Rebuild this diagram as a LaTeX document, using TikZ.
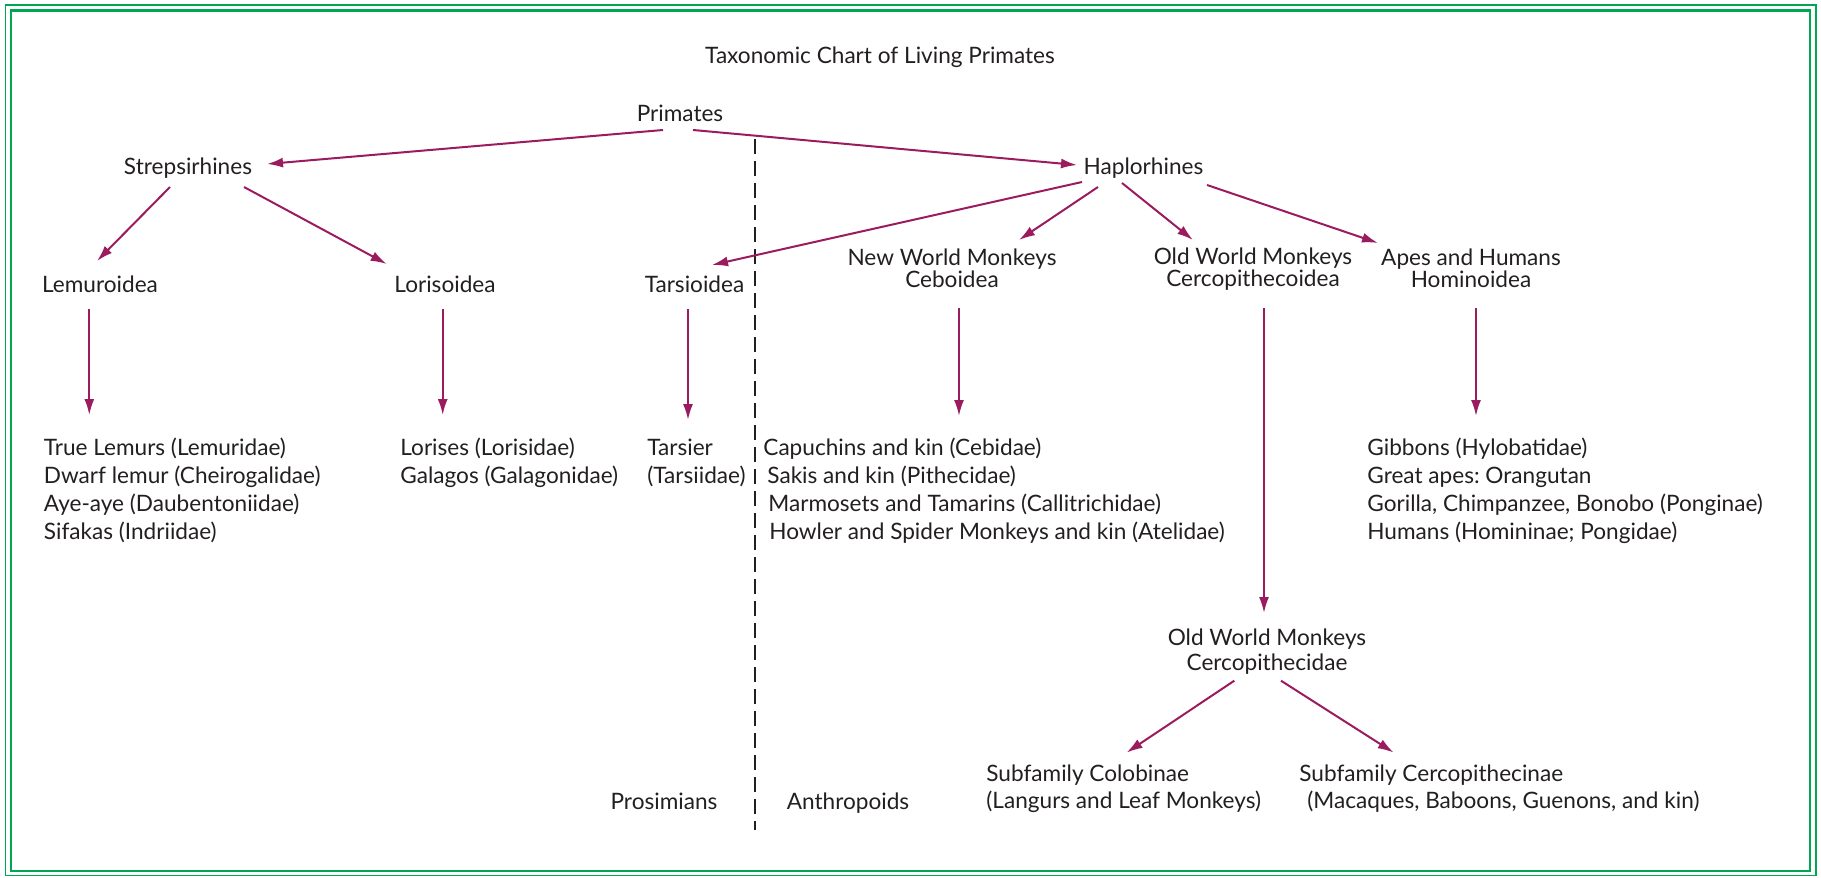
\documentclass[tikz,border=0pt]{standalone}
\usepackage{fontspec}
\setmainfont{Lato}
\frenchspacing
\usepackage{tikz}
\usetikzlibrary{arrows.meta,positioning}
\definecolor{framegreen}{RGB}{0,166,81}
\definecolor{plum}{RGB}{155,27,95}
\definecolor{ink}{RGB}{35,31,32}

\begin{document}
\begin{tikzpicture}[
        x=0.5pt, y=-0.5pt,
        font=\fontsize{11.3}{13}\selectfont,
        every node/.style={text=ink},
        taxon/.style={anchor=base, inner sep=2pt, text height=8pt, text depth=2.5pt},
        group/.style={anchor=base, align=center, inner sep=2pt, font=\fontsize{11.3}{11.2}\selectfont},
        members/.style={anchor=base west, align=left, inner sep=0pt, font=\fontsize{11.3}{14.15}\selectfont},
        link/.style={->, draw=plum, line width=1pt},
        divider/.style={draw=ink, line width=1pt, dash pattern=on 7.5pt off 3.5pt},
        >={Latex[length=8pt,width=5pt]}
    ]
        \useasboundingbox (0,0) rectangle (1821,878);
        \draw[framegreen, line width=0.7pt] (5.7,4.8) rectangle (1816,875.5);
        \draw[framegreen, line width=1.2pt] (11.2,10.5) rectangle (1810,871);

        \node[taxon] (title) at (880,63) {Taxonomic Chart of Living Primates};
        \node[taxon] (primates) at (680,121) {Primates};
        \node[taxon] (strep) at (188,174) {Strepsirhines};
        \node[taxon] (haplo) at (1143.5,174.5) {Haplorhines};

        \node[taxon] (lemuroidea) at (100,292) {Lemuroidea};
        \node[taxon] (lorisoidea) at (445,292) {Lorisoidea};
        \node[taxon] (tarsioidea) at (694.5,292) {Tarsioidea};
        \node[group] (ceboidea) at (952,287.4) {New World Monkeys\\Ceboidea};
        \node[group] (cercoidea) at (1253,286.9) {Old World Monkeys\\Cercopithecoidea};
        \node[group] (hominoidea) at (1471,287.4) {Apes and Humans\\Hominoidea};

        \node[members] (lemurs) at (43.5,539.9) {True Lemurs (Lemuridae)\\Dwarf lemur (Cheirogalidae)\\Aye-aye (Daubentoniidae)\\Sifakas (Indriidae)};
        \node[members] (lorises) at (400,483.3) {Lorises (Lorisidae)\\Galagos (Galagonidae)};
        \node[members] (tarsier) at (647,483.3) {Tarsier\\(Tarsiidae)};
        \node[members] (cebids) at (763,539.9) {Capuchins and kin (Cebidae)\\\hspace*{2pt}Sakis and kin (Pithecidae)\\\hspace*{2.5pt}Marmosets and Tamarins (Callitrichidae)\\\hspace*{3pt}Howler and Spider Monkeys and kin (Atelidae)};
        \node[members] (hominids) at (1367,539.9) {Gibbons (Hylobatidae)\\Great apes: Orangutan\\Gorilla, Chimpanzee, Bonobo (Ponginae)\\Humans (Homininae; Pongidae)};

        \node[group, font=\fontsize{11.3}{12.4}\selectfont] (cercidae) at (1267,670.3) {Old World Monkeys\\Cercopithecidae};
        \node[members, font=\fontsize{11.3}{13.5}\selectfont] (colobinae) at (986,808.7) {Subfamily Colobinae\\(Langurs and Leaf Monkeys)};
        \node[members, font=\fontsize{11.3}{13.5}\selectfont] (cercinae) at (1299,808.7) {Subfamily Cercopithecinae\\\hspace*{4pt}(Macaques, Baboons, Guenons, and kin)};

        \node[taxon] (prosimians) at (664,809) {Prosimians};
        \node[taxon] (anthropoids) at (848,809) {Anthropoids};
        \draw[divider] (754.5,139) -- (754.5,830);

        \draw[link] ([xshift=-8.5pt,yshift=-4.5pt]primates.base) -- ([xshift=39.5pt,yshift=5pt]strep.base);
        \draw[link] ([xshift=6.5pt,yshift=-4.5pt]primates.base) -- ([xshift=-33.25pt,yshift=4.75pt]haplo.base);
        \draw[link] ([xshift=-9pt,yshift=-6.5pt]strep.base) -- ([xshift=-1.5pt,yshift=15.5pt]lemuroidea.base);
        \draw[link] ([xshift=28pt,yshift=-6.5pt]strep.base) -- ([xshift=-29.15pt,yshift=14pt]lorisoidea.base);
        \draw[link] ([xshift=-30.75pt,yshift=-3.75pt]haplo.base) -- ([xshift=8.75pt,yshift=13.5pt]tarsioidea.base);
        \draw[link] ([xshift=-22.75pt,yshift=-6.25pt]haplo.base) -- ([xshift=33.5pt,yshift=23.7pt]ceboidea.base);
        \draw[link] ([xshift=-10.75pt,yshift=-4.25pt]haplo.base) -- ([xshift=-30pt,yshift=23.45pt]cercoidea.base);
        \draw[link] ([xshift=31.75pt,yshift=-5.25pt]haplo.base) -- ([xshift=-46.5pt,yshift=22.2pt]hominoidea.base);

        \draw[link] ([xshift=-5.35pt,yshift=-8.5pt]lemuroidea.base) -- ([xshift=22.9pt,yshift=62.45pt]lemurs.base west);
        \draw[link] ([xshift=-1.15pt,yshift=-8.5pt]lorisoidea.base) -- ([xshift=21.35pt,yshift=34.15pt]lorises.base west);
        \draw[link] ([xshift=-3.25pt,yshift=-8.5pt]tarsioidea.base) -- ([xshift=20.5pt,yshift=31.65pt]tarsier.base west);
        \draw[link] ([xshift=3.5pt,yshift=-10.3pt]ceboidea.base) -- ([xshift=98pt,yshift=61.95pt]cebids.base west);
        \draw[link] ([xshift=5.5pt,yshift=-10.55pt]cercoidea.base) -- ([xshift=-1.5pt,yshift=28.65pt]cercidae.base);
        \draw[link] ([xshift=2.5pt,yshift=-10.3pt]hominoidea.base) -- ([xshift=54.5pt,yshift=61.95pt]hominids.base west);

        \draw[link] ([xshift=-16.35pt,yshift=-5.2pt]cercidae.base) -- ([xshift=70.3pt,yshift=28.05pt]colobinae.base west);
        \draw[link] ([xshift=7pt,yshift=-5.2pt]cercidae.base) -- ([xshift=47.35pt,yshift=28.05pt]cercinae.base west);
    \end{tikzpicture}
\end{document}
